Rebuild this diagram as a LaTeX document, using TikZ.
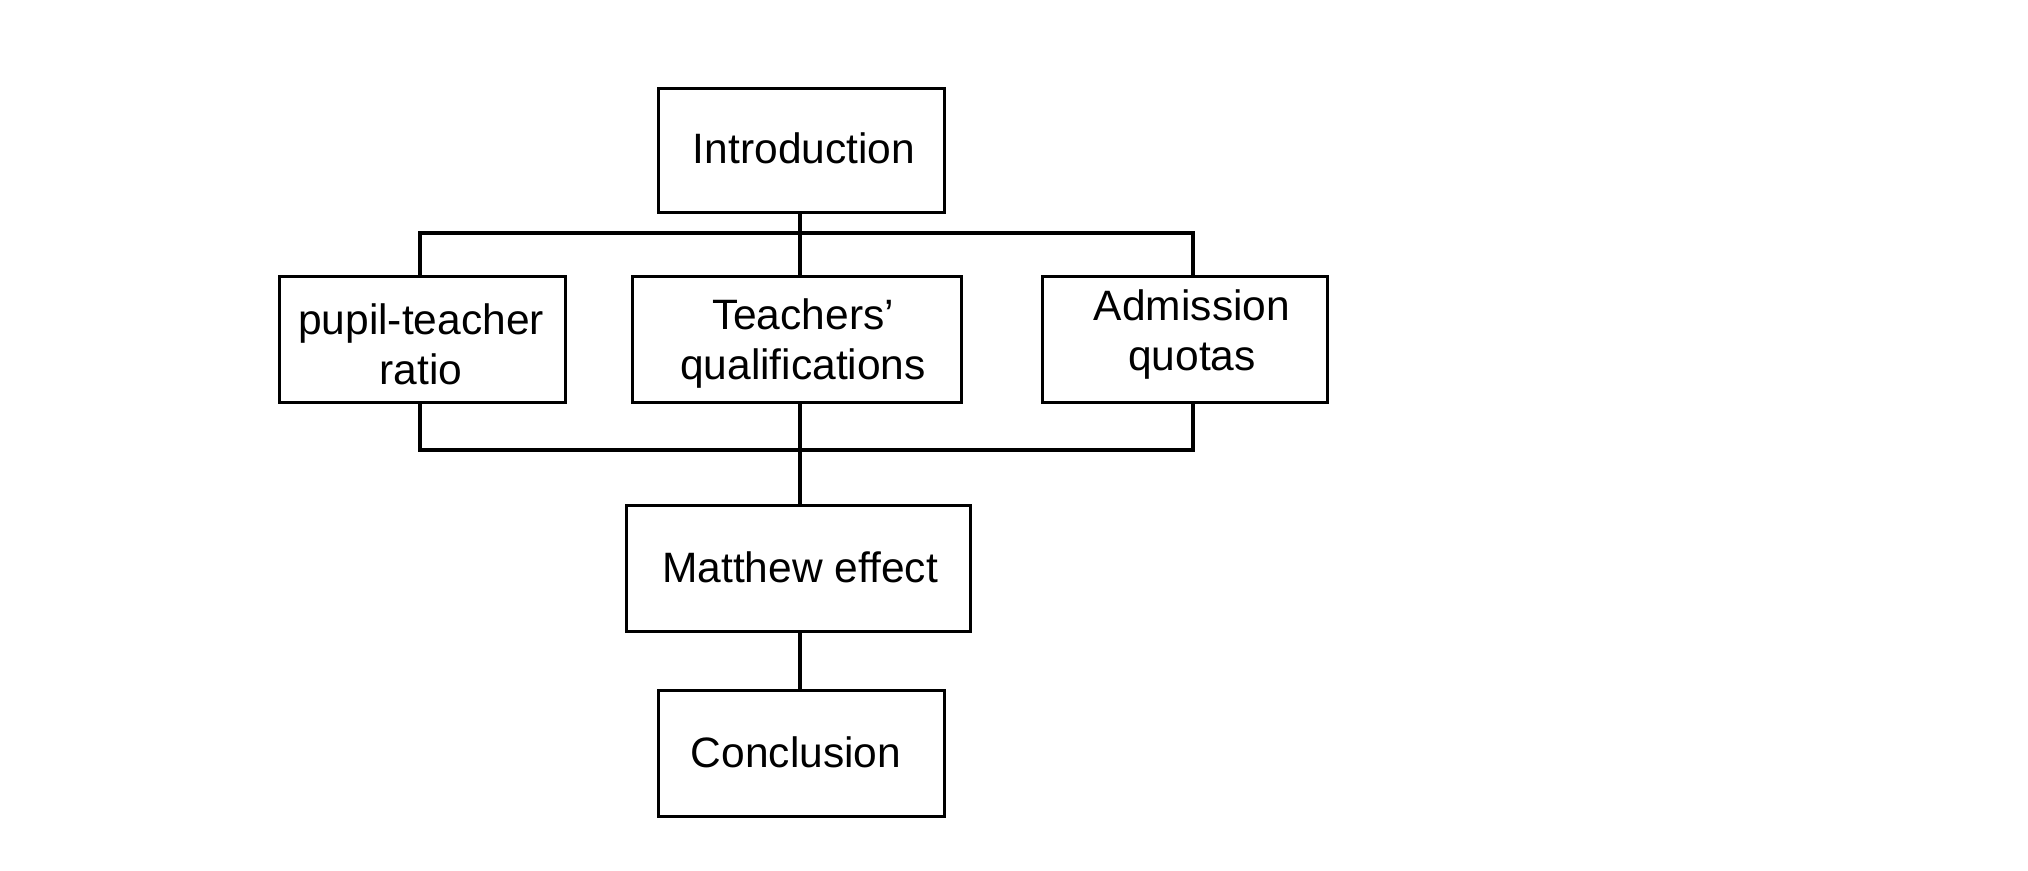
\documentclass[tikz,border=0pt]{standalone}
\usepackage{fontspec}
\setmainfont{Liberation Sans}
\begin{document}
\begin{tikzpicture}[x=1pt,y=-1pt,
  box/.style={draw=black,line width=3pt,inner sep=0pt,anchor=north west},
  lbl/.style={font=\fontsize{42.5}{50}\selectfont,align=center,inner sep=0pt,text=black},
  conn/.style={draw=black,line width=3.2pt}]
\useasboundingbox[fill=white] (0,0) rectangle (2028,870);
% boxes
\node[box,minimum width=286pt,minimum height=124pt] (intro) at (657,87) {};
\node[box,minimum width=286pt,minimum height=126pt] (ptr) at (278,275) {};
\node[box,minimum width=329pt,minimum height=126pt] (tq) at (631,275) {};
\node[box,minimum width=285pt,minimum height=126pt] (aq) at (1041,275) {};
\node[box,minimum width=344pt,minimum height=126pt] (me) at (625,504) {};
\node[box,minimum width=286pt,minimum height=126pt] (con) at (657,689) {};
% labels
\node[lbl] (tintro) at (804,148) {Introduction};
\node[lbl] (tptr) at (421,344) {pupil-teacher\\ratio};
\node[lbl] (ttq) at (803,344) {Teachers’\\qualifications};
\node[lbl] (taq) at (1192,335) {Admission\\quotas};
\node[lbl] (tme) at (800,567) {Matthew effect};
\node[lbl] (tcon) at (796,752) {Conclusion};
% junctions
\coordinate (topL) at (420,233);
\coordinate (topM) at (800,233);
\coordinate (topR) at (1193,233);
\coordinate (botL) at (420,450);
\coordinate (botM) at (800,450);
\coordinate (botR) at (1193,450);
% connectors
\draw[conn] (topM) -- (topM |- intro.south);
\draw[conn] (topL |- ptr.north) -- (topL) -- (topR) -- (topR |- aq.north);
\draw[conn] (topM) -- (topM |- tq.north);
\draw[conn] (botL |- ptr.south) -- (botL) -- (botR) -- (botR |- aq.south);
\draw[conn] (botM |- tq.south) -- (botM) -- (botM |- me.north);
\draw[conn] (botM |- me.south) -- (botM |- con.north);
\end{tikzpicture}
\end{document}
